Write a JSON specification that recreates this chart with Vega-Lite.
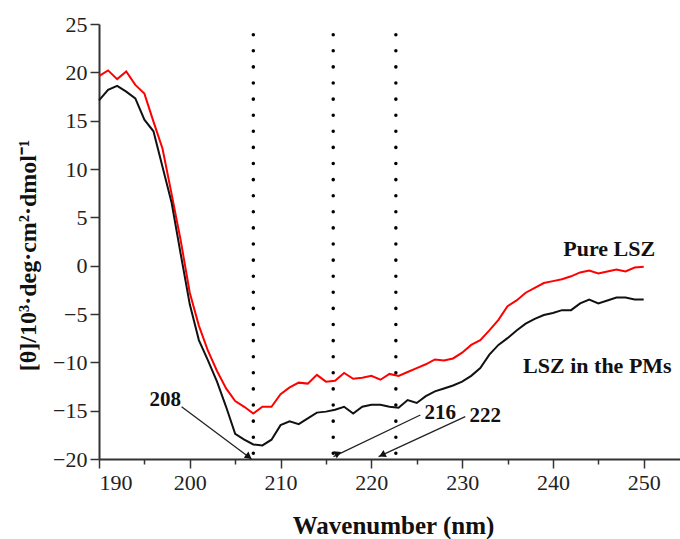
{
  "$schema": "https://vega.github.io/schema/vega-lite/v6.json",
  "autosize": {"type": "none"},
  "width": 581,
  "height": 435,
  "padding": {"left": 99, "top": 24, "right": 0, "bottom": 80},
  "background": "white",
  "config": {
    "view": {"stroke": null},
    "font": "Liberation Serif",
    "axis": {"grid": false, "domainColor": "#333", "domainWidth": 2, "tickColor": "#333", "tickWidth": 1.5, "labelColor": "#222", "titleColor": "#111", "labelFont": "Liberation Serif", "titleFont": "Liberation Serif", "labelFontSize": 22, "labelFontWeight": "normal", "titleFontSize": 25, "titleFontWeight": "bold"}
  },
  "datasets": {
    "curves": [
      {"wl":190,"theta":19.6,"series":"Pure LSZ"},{"wl":191,"theta":20.2,"series":"Pure LSZ"},{"wl":192,"theta":19.3,"series":"Pure LSZ"},{"wl":193,"theta":20.1,"series":"Pure LSZ"},{"wl":194,"theta":18.7,"series":"Pure LSZ"},{"wl":195,"theta":17.8,"series":"Pure LSZ"},{"wl":196,"theta":14.9,"series":"Pure LSZ"},{"wl":197,"theta":12.1,"series":"Pure LSZ"},{"wl":198,"theta":7.4,"series":"Pure LSZ"},{"wl":199,"theta":2.6,"series":"Pure LSZ"},{"wl":200,"theta":-2.8,"series":"Pure LSZ"},{"wl":201,"theta":-6.2,"series":"Pure LSZ"},{"wl":202,"theta":-8.8,"series":"Pure LSZ"},{"wl":203,"theta":-10.9,"series":"Pure LSZ"},{"wl":204,"theta":-12.7,"series":"Pure LSZ"},{"wl":205,"theta":-14.0,"series":"Pure LSZ"},{"wl":206,"theta":-14.6,"series":"Pure LSZ"},{"wl":207,"theta":-15.3,"series":"Pure LSZ"},{"wl":208,"theta":-14.6,"series":"Pure LSZ"},{"wl":209,"theta":-14.6,"series":"Pure LSZ"},{"wl":210,"theta":-13.3,"series":"Pure LSZ"},{"wl":211,"theta":-12.6,"series":"Pure LSZ"},{"wl":212,"theta":-12.1,"series":"Pure LSZ"},{"wl":213,"theta":-12.2,"series":"Pure LSZ"},{"wl":214,"theta":-11.3,"series":"Pure LSZ"},{"wl":215,"theta":-12.0,"series":"Pure LSZ"},{"wl":216,"theta":-11.9,"series":"Pure LSZ"},{"wl":217,"theta":-11.1,"series":"Pure LSZ"},{"wl":218,"theta":-11.7,"series":"Pure LSZ"},{"wl":219,"theta":-11.6,"series":"Pure LSZ"},{"wl":220,"theta":-11.4,"series":"Pure LSZ"},{"wl":221,"theta":-11.8,"series":"Pure LSZ"},{"wl":222,"theta":-11.2,"series":"Pure LSZ"},{"wl":223,"theta":-11.4,"series":"Pure LSZ"},{"wl":224,"theta":-11.0,"series":"Pure LSZ"},{"wl":225,"theta":-10.6,"series":"Pure LSZ"},{"wl":226,"theta":-10.2,"series":"Pure LSZ"},{"wl":227,"theta":-9.7,"series":"Pure LSZ"},{"wl":228,"theta":-9.8,"series":"Pure LSZ"},{"wl":229,"theta":-9.6,"series":"Pure LSZ"},{"wl":230,"theta":-9.0,"series":"Pure LSZ"},{"wl":231,"theta":-8.2,"series":"Pure LSZ"},{"wl":232,"theta":-7.7,"series":"Pure LSZ"},{"wl":233,"theta":-6.7,"series":"Pure LSZ"},{"wl":234,"theta":-5.6,"series":"Pure LSZ"},{"wl":235,"theta":-4.2,"series":"Pure LSZ"},{"wl":236,"theta":-3.6,"series":"Pure LSZ"},{"wl":237,"theta":-2.8,"series":"Pure LSZ"},{"wl":238,"theta":-2.3,"series":"Pure LSZ"},{"wl":239,"theta":-1.8,"series":"Pure LSZ"},{"wl":240,"theta":-1.6,"series":"Pure LSZ"},{"wl":241,"theta":-1.4,"series":"Pure LSZ"},{"wl":242,"theta":-1.1,"series":"Pure LSZ"},{"wl":243,"theta":-0.7,"series":"Pure LSZ"},{"wl":244,"theta":-0.5,"series":"Pure LSZ"},{"wl":245,"theta":-0.8,"series":"Pure LSZ"},{"wl":246,"theta":-0.6,"series":"Pure LSZ"},{"wl":247,"theta":-0.4,"series":"Pure LSZ"},{"wl":248,"theta":-0.6,"series":"Pure LSZ"},{"wl":249,"theta":-0.2,"series":"Pure LSZ"},{"wl":250,"theta":-0.1,"series":"Pure LSZ"},
      {"wl":190,"theta":17.1,"series":"LSZ in the PMs"},{"wl":191,"theta":18.2,"series":"LSZ in the PMs"},{"wl":192,"theta":18.6,"series":"LSZ in the PMs"},{"wl":193,"theta":18.0,"series":"LSZ in the PMs"},{"wl":194,"theta":17.3,"series":"LSZ in the PMs"},{"wl":195,"theta":15.1,"series":"LSZ in the PMs"},{"wl":196,"theta":13.9,"series":"LSZ in the PMs"},{"wl":197,"theta":10.2,"series":"LSZ in the PMs"},{"wl":198,"theta":6.5,"series":"LSZ in the PMs"},{"wl":199,"theta":1.2,"series":"LSZ in the PMs"},{"wl":200,"theta":-4.0,"series":"LSZ in the PMs"},{"wl":201,"theta":-7.7,"series":"LSZ in the PMs"},{"wl":202,"theta":-9.8,"series":"LSZ in the PMs"},{"wl":203,"theta":-12.0,"series":"LSZ in the PMs"},{"wl":204,"theta":-14.6,"series":"LSZ in the PMs"},{"wl":205,"theta":-17.4,"series":"LSZ in the PMs"},{"wl":206,"theta":-18.0,"series":"LSZ in the PMs"},{"wl":207,"theta":-18.5,"series":"LSZ in the PMs"},{"wl":208,"theta":-18.6,"series":"LSZ in the PMs"},{"wl":209,"theta":-18.0,"series":"LSZ in the PMs"},{"wl":210,"theta":-16.5,"series":"LSZ in the PMs"},{"wl":211,"theta":-16.1,"series":"LSZ in the PMs"},{"wl":212,"theta":-16.4,"series":"LSZ in the PMs"},{"wl":213,"theta":-15.8,"series":"LSZ in the PMs"},{"wl":214,"theta":-15.2,"series":"LSZ in the PMs"},{"wl":215,"theta":-15.1,"series":"LSZ in the PMs"},{"wl":216,"theta":-14.9,"series":"LSZ in the PMs"},{"wl":217,"theta":-14.6,"series":"LSZ in the PMs"},{"wl":218,"theta":-15.3,"series":"LSZ in the PMs"},{"wl":219,"theta":-14.6,"series":"LSZ in the PMs"},{"wl":220,"theta":-14.4,"series":"LSZ in the PMs"},{"wl":221,"theta":-14.4,"series":"LSZ in the PMs"},{"wl":222,"theta":-14.6,"series":"LSZ in the PMs"},{"wl":223,"theta":-14.7,"series":"LSZ in the PMs"},{"wl":224,"theta":-13.9,"series":"LSZ in the PMs"},{"wl":225,"theta":-14.2,"series":"LSZ in the PMs"},{"wl":226,"theta":-13.5,"series":"LSZ in the PMs"},{"wl":227,"theta":-13.0,"series":"LSZ in the PMs"},{"wl":228,"theta":-12.7,"series":"LSZ in the PMs"},{"wl":229,"theta":-12.4,"series":"LSZ in the PMs"},{"wl":230,"theta":-12.0,"series":"LSZ in the PMs"},{"wl":231,"theta":-11.4,"series":"LSZ in the PMs"},{"wl":232,"theta":-10.6,"series":"LSZ in the PMs"},{"wl":233,"theta":-9.2,"series":"LSZ in the PMs"},{"wl":234,"theta":-8.2,"series":"LSZ in the PMs"},{"wl":235,"theta":-7.5,"series":"LSZ in the PMs"},{"wl":236,"theta":-6.7,"series":"LSZ in the PMs"},{"wl":237,"theta":-6.0,"series":"LSZ in the PMs"},{"wl":238,"theta":-5.5,"series":"LSZ in the PMs"},{"wl":239,"theta":-5.1,"series":"LSZ in the PMs"},{"wl":240,"theta":-4.9,"series":"LSZ in the PMs"},{"wl":241,"theta":-4.6,"series":"LSZ in the PMs"},{"wl":242,"theta":-4.6,"series":"LSZ in the PMs"},{"wl":243,"theta":-3.9,"series":"LSZ in the PMs"},{"wl":244,"theta":-3.5,"series":"LSZ in the PMs"},{"wl":245,"theta":-3.9,"series":"LSZ in the PMs"},{"wl":246,"theta":-3.6,"series":"LSZ in the PMs"},{"wl":247,"theta":-3.3,"series":"LSZ in the PMs"},{"wl":248,"theta":-3.3,"series":"LSZ in the PMs"},{"wl":249,"theta":-3.5,"series":"LSZ in the PMs"},{"wl":250,"theta":-3.5,"series":"LSZ in the PMs"}
    ],
    "markers": [
      {"wl":207.0,"top":23.9,"bottom":-20},
      {"wl":215.8,"top":23.9,"bottom":-20},
      {"wl":222.7,"top":23.9,"bottom":-20}
    ],
    "arrows": [
      {"label":"208","x1":199.1,"y1":-14.6,"x2":206.8,"y2":-20.0,"hx":206.5,"hy":-19.76},
      {"label":"216","x1":225.4,"y1":-15.45,"x2":215.83,"y2":-19.76,"hx":216.22,"hy":-19.58},
      {"label":"222","x1":230.35,"y1":-15.62,"x2":220.8,"y2":-19.76,"hx":221.19,"hy":-19.58}
    ],
    "labels": [
      {"text":"208","x":197.3,"y":-13.9,"size":"small"},
      {"text":"216","x":227.6,"y":-15.2,"size":"small"},
      {"text":"222","x":232.56,"y":-15.55,"size":"small"},
      {"text":"Pure LSZ","x":246.2,"y":1.73,"size":"big"},
      {"text":"LSZ in the PMs","x":244.9,"y":-10.43,"size":"big"}
    ]
  },
  "layer": [
    {
      "data": {"name": "curves"},
      "mark": {"type": "line", "strokeWidth": 2},
      "encoding": {
        "x": {"field": "wl", "type": "quantitative", "scale": {"domain": [190, 254], "nice": false, "zero": false},
              "axis": {"title": "Wavenumber (nm)", "values": [190,195,200,205,210,215,220,225,230,235,240,245,250],
                       "labelExpr": "datum.value % 10 == 0 ? datum.label : ''",
                       "tickSize": {"condition": {"test": "datum.value % 10 != 0", "value": 5}, "value": 9},
                       "labelPadding": 4, "titleX": 294, "titleY": 66, "titleBaseline": "middle", "titleAnchor": null, "titleAlign": "center"}},
        "y": {"field": "theta", "type": "quantitative", "scale": {"domain": [-20, 25], "nice": false, "zero": false},
              "axis": {"title": "[θ]/10³·deg·cm²·dmol⁻¹", "values": [-20,-17.5,-15,-12.5,-10,-7.5,-5,-2.5,0,2.5,5,7.5,10,12.5,15,17.5,20,22.5,25],
                       "labelExpr": "datum.value % 5 == 0 ? datum.label : ''",
                       "tickSize": {"condition": {"test": "datum.value % 5 != 0", "value": 5}, "value": 9},
                       "labelPadding": 3, "titleX": -71, "titleY": 231, "titleAngle": -90, "titleBaseline": "middle", "titleAlign": "center", "titleAnchor": null, "titleFontSize": 24}},
        "color": {"field": "series", "type": "nominal", "scale": {"domain": ["Pure LSZ", "LSZ in the PMs"], "range": ["#ff0000", "#111111"]}, "legend": null}
      }
    },
    {
      "mark": {"type": "rule", "color": "#333", "strokeWidth": 2},
      "encoding": {"y": {"datum": 25}}
    },
    {
      "data": {"name": "markers"},
      "mark": {"type": "rule", "color": "#000", "strokeWidth": 3.5, "strokeCap": "round", "strokeDash": [0.1, 16]},
      "encoding": {
        "x": {"field": "wl", "type": "quantitative"},
        "y": {"field": "top", "type": "quantitative"},
        "y2": {"field": "bottom"}
      }
    },
    {
      "data": {"name": "arrows"},
      "mark": {"type": "rule", "color": "#222", "strokeWidth": 1.3},
      "encoding": {
        "x": {"field": "x1", "type": "quantitative"},
        "y": {"field": "y1", "type": "quantitative"},
        "x2": {"field": "x2"},
        "y2": {"field": "y2"}
      }
    },
    {
      "data": {"name": "arrows"},
      "mark": {"type": "point", "shape": "triangle-up", "filled": true, "color": "#111", "size": 60, "opacity": 1},
      "encoding": {
        "x": {"field": "hx", "type": "quantitative"},
        "y": {"field": "hy", "type": "quantitative"},
        "angle": {"field": "label", "type": "nominal", "scale": {"domain": ["208", "216", "222"], "range": [126.8, 244.3, 245.2]}, "legend": null}
      }
    },
    {
      "data": {"name": "labels"},
      "mark": {"type": "text", "font": "Liberation Serif", "fontWeight": "bold", "color": "#111", "align": "center", "baseline": "middle"},
      "encoding": {
        "x": {"field": "x", "type": "quantitative"},
        "y": {"field": "y", "type": "quantitative"},
        "text": {"field": "text"},
        "size": {"field": "size", "type": "nominal", "scale": {"domain": ["small", "big"], "range": [21, 22]}, "legend": null}
      }
    }
  ]
}
